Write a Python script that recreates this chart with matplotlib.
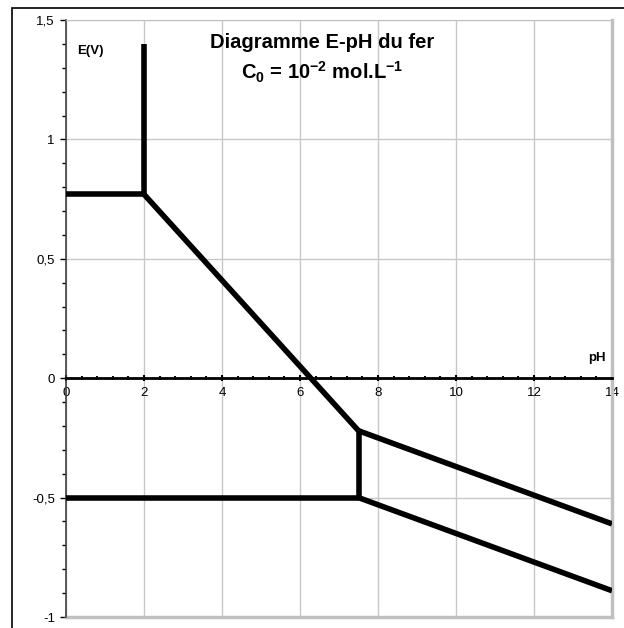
import matplotlib
matplotlib.use('Agg')
import matplotlib.pyplot as plt
from matplotlib.ticker import MultipleLocator, FuncFormatter
from matplotlib.patches import Rectangle

plt.rcParams['font.family'] = ['Liberation Sans', 'DejaVu Sans']
plt.rcParams['mathtext.fontset'] = 'custom'
plt.rcParams['mathtext.rm'] = 'Liberation Sans:bold'
plt.rcParams['mathtext.bf'] = 'Liberation Sans:bold'
plt.rcParams['mathtext.default'] = 'bf'

# frontieres du diagramme E-pH du fer (pH, E en V)
ph_fe3_fe2 = [0, 2]
e_fe3_fe2 = [0.77, 0.77]
ph_fe3_oh3 = [2, 2]
e_fe3_oh3 = [0.77, 1.4]
ph_oh3_fe2 = [2, 7.5]
e_oh3_fe2 = [0.77, -0.22]
ph_fe2_oh2 = [7.5, 7.5]
e_fe2_oh2 = [-0.22, -0.5]
ph_fe2_fe = [0, 7.5]
e_fe2_fe = [-0.5, -0.5]
ph_oh3_oh2 = [7.5, 14]
e_oh3_oh2 = [-0.22, -0.61]
ph_oh2_fe = [7.5, 14]
e_oh2_fe = [-0.5, -0.89]

fig = plt.figure(figsize=(6.24, 6.28), dpi=100)
ax = fig.add_axes([66/624, 1-617/628, 546/624, 597/628])

# cadre exterieur
fig.patches.append(Rectangle((12/624, -0.1), 1.2, 1-8/628+0.1, transform=fig.transFigure,
                             fill=False, edgecolor='black', lw=1.2))

ax.set_xlim(0, 14)
ax.set_ylim(-1, 1.5)

ax.grid(True, color='#c8c8c8', lw=1)
ax.set_axisbelow(True)

for x, y in [(ph_fe3_fe2, e_fe3_fe2), (ph_fe3_oh3, e_fe3_oh3), (ph_oh3_fe2, e_oh3_fe2),
             (ph_fe2_oh2, e_fe2_oh2), (ph_fe2_fe, e_fe2_fe), (ph_oh3_oh2, e_oh3_oh2),
             (ph_oh2_fe, e_oh2_fe)]:
    ax.plot(x, y, color='black', lw=4, solid_capstyle='butt', zorder=5)

ax.xaxis.set_major_locator(MultipleLocator(2))
ax.xaxis.set_minor_locator(MultipleLocator(0.4))
ax.yaxis.set_major_locator(MultipleLocator(0.5))
ax.yaxis.set_minor_locator(MultipleLocator(0.1))

fmt = FuncFormatter(lambda v, p: ('%g' % v).replace('.', ','))
ax.xaxis.set_major_formatter(fmt)
ax.yaxis.set_major_formatter(fmt)

ax.spines['bottom'].set_position(('data', 0))
ax.spines['bottom'].set_linewidth(2)
ax.spines['bottom'].set_zorder(4)
ax.spines['left'].set_color('#404040')
ax.spines['left'].set_linewidth(1.2)
ax.spines['top'].set_color('#c0c0c0')
ax.spines['right'].set_color('#c0c0c0')
ax.spines['right'].set_linewidth(2.5)

# bord gris du bas de la zone de tracé
ax.plot([0, 14], [-1, -1], color='#c0c0c0', lw=2.5, clip_on=False, zorder=1)

ax.tick_params(axis='x', which='major', direction='inout', length=4, width=1.5,
               labelsize=9.5, pad=4)
ax.tick_params(axis='x', which='minor', direction='inout', length=3, width=1.5)
ax.tick_params(axis='y', which='major', direction='out', length=4, width=1,
               labelsize=9.5, pad=4)
ax.tick_params(axis='y', which='minor', direction='out', length=3, width=1)

ax.text(13.85, 0.06, 'pH', fontsize=9.5, fontweight='bold', ha='right', va='bottom')
ax.text(0.62, 1.37, 'E(V)', fontsize=9.5, fontweight='bold', ha='center', va='center')

fig.text(322/624, 1-42/628, 'Diagramme E-pH du fer', fontsize=14.5, fontweight='bold',
         ha='center', va='center')
fig.text(322/624, 1-72/628, r'C$_0$ = 10$^{-2}$ mol.L$^{-1}$', fontsize=14.5,
         fontweight='bold', ha='center', va='center')

fig.savefig('out.png', dpi=100)
